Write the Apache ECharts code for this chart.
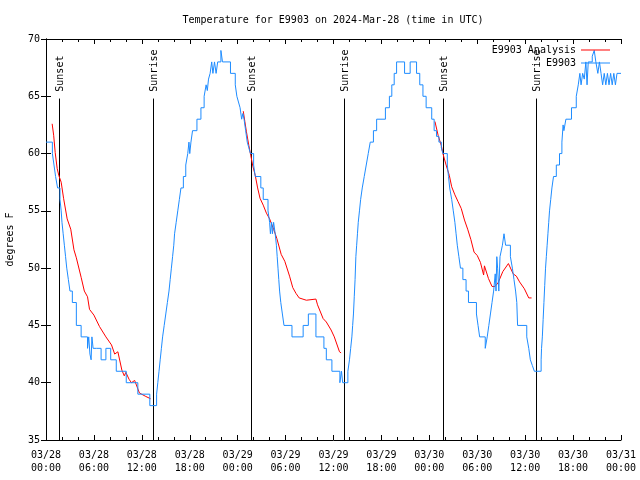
<!DOCTYPE html>
<html>
<head>
<meta charset="utf-8">
<script src="https://cdn.jsdelivr.net/npm/echarts@6/dist/echarts.min.js"></script>
<style>html,body{margin:0;padding:0;background:#fff}#c{width:640px;height:480px}</style>
</head>
<body>
<div id="c"></div>
<script>
// ---- data (hours since 03/28 00:00 UTC, degrees F) ----
const xTickDates = ['03/28', '03/29', '03/30', '03/31'];
const sunEventHours = [1.6, 13.37, 25.65, 37.29, 49.69, 61.33];
const sunEventNames = ['Sunset', 'Sunrise', 'Sunset', 'Sunrise', 'Sunset', 'Sunrise'];

const obsHours = [0,0.8,1.0,1.2,1.45,1.75,1.9,2.0,2.15,2.3,2.45,2.6,2.8,3.0,3.3,3.8,4.4,5.2,5.35,5.5,5.65,5.75,5.9,6.3,6.9,7.5,8.1,8.8,10.05,11.5,13.0,13.85,14.0,14.15,14.3,14.45,14.6,14.8,15.0,15.2,15.4,15.55,15.7,15.85,16.0,16.1,16.3,16.5,16.7,16.9,17.2,17.5,17.75,17.9,18.0,18.15,18.35,18.9,19.4,19.8,20.05,20.2,20.35,20.55,20.75,20.9,21.1,21.3,21.5,21.9,22.1,23.1,23.7,23.9,24.1,24.3,24.5,24.65,24.8,25.0,25.2,25.4,25.6,26.0,26.2,26.9,27.2,27.8,28.0,28.1,28.25,28.35,28.5,28.7,28.85,28.95,29.05,29.15,29.25,29.4,29.6,29.8,30.8,32.2,32.85,33.8,34.8,35.1,35.8,36.8,37.0,37.15,37.8,38.0,38.15,38.3,38.4,38.5,38.6,38.7,38.8,38.9,39.0,39.1,39.25,39.4,39.6,39.85,40.1,40.35,40.6,41.0,41.4,42.5,43.0,43.3,43.6,43.9,44.9,45.6,46.4,46.8,47.2,47.6,48.3,48.6,48.9,49.2,49.5,49.7,50.25,50.4,50.55,50.8,51.0,51.2,51.35,51.5,51.7,51.9,52.2,52.6,52.9,53.9,54.1,54.3,55.0,55.25,55.45,55.65,55.85,56.05,56.25,56.35,56.45,56.55,56.7,56.85,57.0,57.15,57.35,57.55,58.15,58.4,58.6,58.8,58.95,59.05,60.2,60.45,60.65,60.9,61.15,62.0,62.05,62.15,62.25,62.35,62.45,62.55,62.65,62.75,62.85,62.95,63.05,63.2,63.35,63.55,63.9,64.3,64.6,64.75,64.85,65.1,65.8,66.4,66.65,66.85,67.0,67.2,67.4,67.6,67.75,67.9,68.4,68.65,68.85,69.1,69.3,69.5,69.7,69.9,70.1,70.3,70.5,70.7,70.9,71.1,71.3,71.5,72];
const obsTemps = [61,60,59,58,57,56,55,54,53,52,51,50,49,48,47,45,44,43,44,42.5,42,44,43,43,42,43,42,41,40,39,38,39,40,41,42,43,44,45,46,47,48,49,50,51,52,53,54,55,56,57,58,59,60,61,60,61,62,63,64,65,66,65.5,66.5,67,68,67,68,67,68,69,68,67,66,65,64.5,64,63,63.5,63,62,61,60.5,60,59,58,57,56,55,54,53,54,53,54,53,52,51,50,49,48,47,46,45,44,45,46,44,43,42,41,40,41,40,41,42,43,44,45,46,47.5,49,51,52,53,54,55,56,57,58,59,60,61,62,63,64,65,66,67,68,67,68,67,66,65,64,63,62,61.5,61,60.5,60,59,58,57,56,55,54,53,52,51,50,49,48,47,46,45,44,43,44,45,46,47,48,49.5,48,51,50,48,51,51.5,52,53,52,51,50,49,48,47,45,44,43,42,41.5,41,42,43,44,45.5,47,48.5,50,51,52,53,54,55,56,57,58,59,60,61,62.5,62,63,64,65,66,67,66,67,66.5,68,66,68,68.5,69,68,67,68,67,66,67,66,67,66,67,66,67,66,67,67];

const anaNight1Hours = [0.77,0.96,1.15,1.4,1.6,1.9,2.2,2.65,3.1,3.5,3.8,4.4,4.8,5.2,5.45,6.0,6.7,6.9,7.5,8.2,8.6,9.0,9.5,9.8,10.0,10.4,10.7,11.1,11.7,12.5,13.1];
const anaNight1Temps = [62.6,61.6,60.1,58.7,58.1,57.5,56.1,54.3,53.4,51.6,50.9,49.2,48.0,47.5,46.4,45.9,44.9,44.9,44.0,43.3,42.5,42.7,41.1,40.6,40.9,40.3,40.0,40.2,39.1,38.8,38.6];
const anaNight2Hours = [24.7,24.9,25.1,25.4,25.65,25.9,26.2,26.5,26.8,27.2,27.6,28.0,28.5,28.9,29.45,29.9,30.5,30.9,31.3,31.7,32.6,33.8,34.0,34.7,35.1,35.7,36.1,36.75,36.95];
const anaNight2Temps = [63.7,62.8,61.9,60.7,59.8,58.9,58.1,57.0,56.1,55.5,54.8,54.3,53.4,52.6,51.2,50.6,49.3,48.3,47.8,47.4,47.2,47.3,46.8,45.6,45.3,44.6,44.0,42.7,42.6];
const anaNight3Hours = [48.7,49.1,49.5,49.7,50.1,50.5,50.8,51.2,51.6,52.0,52.4,52.8,53.2,53.6,54.0,54.4,54.8,54.9,55.4,55.85,56.2,56.6,57.2,57.9,58.5,58.9,59.3,59.9,60.45,60.8];
const anaNight3Temps = [62.8,61.6,60.7,60.0,59.0,58.1,57.1,56.4,55.8,55.2,54.2,53.4,52.5,51.4,51.1,50.5,49.4,50.2,49.1,48.4,48.4,48.7,49.7,50.4,49.5,49.3,48.8,48.2,47.4,47.4];

// ---- build ----
const zip = (xs, ys) => xs.map((x, i) => [x, ys[i]]);
const anaData = [].concat(zip(anaNight1Hours, anaNight1Temps), [null],
                          zip(anaNight2Hours, anaNight2Temps), [null],
                          zip(anaNight3Hours, anaNight3Temps));
const obsData = zip(obsHours, obsTemps);
const sunData = sunEventHours.map(h => [h, 35]);

const FONT = 'DejaVu Sans Mono';
const RED = '#ff0000', BLUE = '#1e8cff';
const chart = echarts.init(document.getElementById('c'), null, {renderer: 'canvas'});

function xLabel(v) {
  const day = Math.floor(v / 24);
  const hr = Math.round(v - day * 24);
  return xTickDates[day] + '\n' + (hr < 10 ? '0' : '') + hr + ':00';
}

const axisLineStyle = {color: '#000', width: 1};
chart.setOption({
  animation: false,
  backgroundColor: '#fff',
  textStyle: {fontFamily: FONT},
  title: {
    text: 'Temperature for E9903 on 2024-Mar-28 (time in UTC)',
    left: 333, top: 15, textAlign: 'center', padding: 0,
    textStyle: {fontFamily: FONT, fontSize: 10, fontWeight: 'normal', color: '#000'}
  },
  legend: {
    orient: 'vertical', right: 30, top: 45, align: 'right', padding: 0,
    itemWidth: 29, itemHeight: 1, itemGap: 3,
    textStyle: {fontFamily: FONT, fontSize: 10, color: '#000'},
    data: [{name: 'E9903 Analysis', icon: 'rect', itemStyle: {color: RED}},
           {name: 'E9903', icon: 'rect', itemStyle: {color: BLUE}}]
  },
  grid: {left: 46, right: 19, top: 39, bottom: 40, containLabel: false, outerBoundsMode: 'none'},
  xAxis: [{
    type: 'value', min: 0, max: 72, interval: 6, position: 'bottom',
    axisLine: {show: true, lineStyle: axisLineStyle},
    axisTick: {show: true, inside: true, length: 5, lineStyle: axisLineStyle},
    minorTick: {show: true, splitNumber: 3, length: 3, lineStyle: axisLineStyle},
    splitLine: {show: false},
    axisLabel: {formatter: xLabel, fontFamily: FONT, fontSize: 10, color: '#000', margin: 9, lineHeight: 13, showMinLabel: true, showMaxLabel: true}
  }, {
    type: 'value', min: 0, max: 72, interval: 6, position: 'top',
    axisLine: {show: true, lineStyle: axisLineStyle},
    axisTick: {show: true, inside: true, length: 5, lineStyle: axisLineStyle},
    minorTick: {show: true, splitNumber: 3, length: 3, lineStyle: axisLineStyle},
    splitLine: {show: false}, axisLabel: {show: false}
  }],
  yAxis: [{
    type: 'value', min: 35, max: 70, interval: 5, position: 'left',
    name: 'degrees F', nameLocation: 'middle', nameGap: 31,
    nameTextStyle: {fontFamily: FONT, fontSize: 10, color: '#000'},
    axisLine: {show: true, lineStyle: axisLineStyle},
    axisTick: {show: true, inside: true, length: 5, lineStyle: axisLineStyle},
    splitLine: {show: false},
    axisLabel: {fontFamily: FONT, fontSize: 10, color: '#000', margin: 6}
  }, {
    type: 'value', min: 35, max: 70, interval: 5, position: 'right',
    axisLine: {show: true, lineStyle: axisLineStyle},
    axisTick: {show: true, inside: true, length: 5, lineStyle: axisLineStyle},
    splitLine: {show: false}, axisLabel: {show: false}
  }],
  series: [{
    name: 'E9903 Analysis', type: 'line', data: anaData,
    symbol: 'none', connectNulls: false,
    lineStyle: {color: RED, width: 1}, itemStyle: {color: RED}
  }, {
    name: 'E9903', type: 'line', data: obsData, step: 'end',
    symbol: 'none',
    lineStyle: {color: BLUE, width: 1}, itemStyle: {color: BLUE}
  }, {
    name: 'sun', type: 'custom', data: sunData, encode: {x: 0, y: 1},
    silent: true,
    renderItem: function (params, api) {
      const h = api.value(0);
      const top = api.coord([h, 64.8]);
      const bot = api.coord([h, 35]);
      const lab = api.coord([h, 65.4]);
      const x = Math.round(top[0]) + 0.5;
      return {
        type: 'group',
        children: [{
          type: 'line',
          shape: {x1: x, y1: top[1], x2: x, y2: bot[1]},
          style: {stroke: '#000', lineWidth: 1}
        }, {
          type: 'text', x: x + 1, y: lab[1], rotation: Math.PI / 2,
          style: {text: sunEventNames[params.dataIndex], textAlign: 'left', textVerticalAlign: 'middle',
                  font: '10px "' + FONT + '"', fill: '#000'}
        }]
      };
    }
  }]
});
</script>
</body>
</html>
